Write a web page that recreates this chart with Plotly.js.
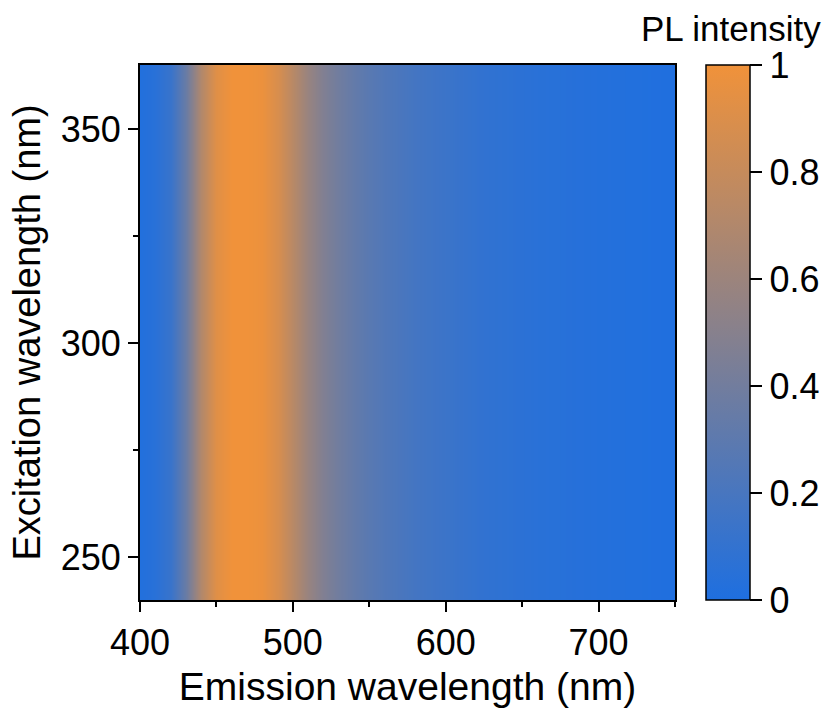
<!DOCTYPE html>
<html>
<head>
<meta charset="utf-8">
<script src="https://cdn.plot.ly/plotly-3.0.1.min.js"></script>
<style>html,body{margin:0;padding:0;background:#fff;}#chart{width:833px;height:715px;}</style>
</head>
<body>
<div id="chart"></div>
<script>
// Emission wavelength (nm), x axis
const emission = [400,410,420,430,440,450,460,470,480,490,500,510,520,530,540,550,560,570,580,590,600,610,620,630,640,650,660,670,680,690,700,710,720,730,740,750];
// Normalised PL intensity along emission (same at every excitation wavelength)
const intensity = [0.02,0.05,0.13,0.36,0.7,0.92,1.0,1.0,0.98,0.88,0.73,0.58,0.47,0.39,0.33,0.28,0.24,0.21,0.18,0.16,0.14,0.12,0.1,0.085,0.075,0.065,0.055,0.048,0.042,0.036,0.03,0.025,0.02,0.016,0.012,0.01];
// Excitation wavelength (nm), y axis
const excitation = [240,250,260,270,280,290,300,310,320,330,340,350,360,365];

const z = excitation.map(() => intensity.slice());

const font = "Arial, 'Liberation Sans', sans-serif";

const trace = {
  type: 'heatmap',
  x: emission,
  y: excitation,
  z: z,
  zmin: 0, zmax: 1,
  zsmooth: 'best',
  colorscale: [[0,'#1e6fe0'],[1,'#f0923a']],
  colorbar: {
    x: 1.0576, xanchor: 'left', xpad: 0, ypad: 0,
    y: 0.5, yanchor: 'middle', len: 1, lenmode: 'fraction',
    thickness: 44, thicknessmode: 'pixels',
    outlinewidth: 1.5, outlinecolor: '#000',
    ticks: 'outside', ticklen: 12, tickwidth: 2, tickcolor: '#000',
    tickvals: [0,0.2,0.4,0.6,0.8,1], ticktext: ['0','0.2','0.4','0.6','0.8','1'],
    tickfont: {family: font, size: 36, color: '#000'}
  },
  hoverinfo: 'skip'
};

const layout = {
  width: 833, height: 715,
  margin: {l: 140, r: 155, t: 65, b: 115, pad: 0},
  paper_bgcolor: '#fff', plot_bgcolor: '#fff',
  font: {family: font, color: '#000'},
  xaxis: {
    range: [400, 750], tick0: 400, dtick: 100,
    ticks: 'outside', ticklen: 10, tickwidth: 2, tickcolor: '#000',
    minor: {dtick: 50, tick0: 400, ticks: 'outside', ticklen: 5, tickwidth: 2, tickcolor: '#000'},
    showline: true, linewidth: 2, linecolor: '#000', mirror: true,
    showgrid: false, zeroline: false,
    tickfont: {family: font, size: 36, color: '#000'},
    title: {text: 'Emission wavelength (nm)', font: {family: font, size: 39, color: '#000'}, standoff: 10}
  },
  yaxis: {
    range: [240, 365], tick0: 250, dtick: 50,
    ticks: 'outside', ticklen: 10, tickwidth: 2, tickcolor: '#000',
    minor: {dtick: 25, tick0: 250, ticks: 'outside', ticklen: 5, tickwidth: 2, tickcolor: '#000'},
    showline: true, linewidth: 2, linecolor: '#000', mirror: true,
    showgrid: false, zeroline: false,
    tickfont: {family: font, size: 36, color: '#000'},
    title: {text: 'Excitation wavelength (nm)', font: {family: font, size: 38, color: '#000'}, standoff: 8}
  },
  annotations: [{
    text: 'PL intensity', xref: 'paper', yref: 'paper',
    x: 1.277, xanchor: 'right', y: 1.068, yanchor: 'middle',
    showarrow: false, font: {family: font, size: 35, color: '#000'}
  }]
};

Plotly.newPlot('chart', [trace], layout, {displayModeBar: false, staticPlot: true});
</script>
</body>
</html>
